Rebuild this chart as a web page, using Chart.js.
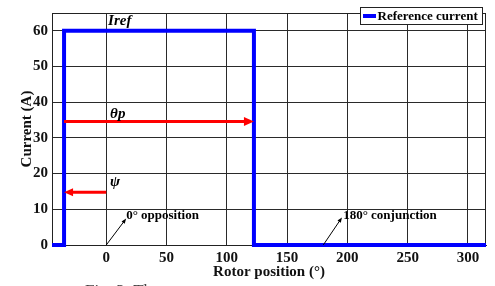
<!DOCTYPE html>
<html>
<head>
<meta charset="utf-8">
<script src="https://cdn.jsdelivr.net/npm/chart.js@4.4.0/dist/chart.umd.min.js"></script>
<style>
html,body{margin:0;padding:0;background:#fff;}
canvas{display:block;}
</style>
</head>
<body>
<canvas id="c" width="495" height="286"></canvas>
<script>
// ---- data ----
const rotorAngle = [-45, -35, -35, 122.5, 122.5, 315];
const refCurrent = [0, 0, 60, 60, 0, 0];
const xTicks = [0, 50, 100, 150, 200, 250, 300];
const yTicks = [0, 10, 20, 30, 40, 50, 60];
const seriesLabel = 'Reference current';
const xTitle = 'Rotor position (°)';
const yTitle = 'Current (A)';
// red dimension arrows: [x from, x to, y]
const thetaArrow = [-35, 122.5, 34.6];
const psiArrow = [0, -35, 14.8];
// black pointer arrows: [x0, y0, x1, y1]
const oppositionArrow = [0, 0, 16.5, 7.4];
const conjunctionArrow = [180, 0, 195.5, 7.7];
// text labels: [text, x, y, style]
const labels = [
  ['Iref', 1.5, 62.7, 'italic bold'],
  ['θp', 3.2, 36.7, 'italic bold'],
  ['ψ', 3.2, 17.6, 'italic bold'],
  ['0° opposition', 16.5, 8.3, 'bold'],
  ['180° conjunction', 196.5, 8.3, 'bold']
];
const caption = 'Fig. 3. The';

const FONT = '"Liberation Serif", "Times New Roman", serif';

function arrowHead(ctx, x1, y1, x2, y2, len, w) {
  const a = Math.atan2(y2 - y1, x2 - x1);
  ctx.beginPath();
  ctx.moveTo(x2, y2);
  ctx.lineTo(x2 - len * Math.cos(a) + w / 2 * Math.sin(a), y2 - len * Math.sin(a) - w / 2 * Math.cos(a));
  ctx.lineTo(x2 - len * Math.cos(a) - w / 2 * Math.sin(a), y2 - len * Math.sin(a) + w / 2 * Math.cos(a));
  ctx.closePath();
  ctx.fill();
}
function arrow(ctx, x1, y1, x2, y2, color, lw, len, w) {
  const a = Math.atan2(y2 - y1, x2 - x1);
  ctx.save();
  ctx.strokeStyle = color; ctx.fillStyle = color; ctx.lineWidth = lw;
  ctx.beginPath();
  ctx.moveTo(x1, y1);
  ctx.lineTo(x2 - (len - 1) * Math.cos(a), y2 - (len - 1) * Math.sin(a));
  ctx.stroke();
  arrowHead(ctx, x1, y1, x2, y2, len, w);
  ctx.restore();
}

const annot = {
  id: 'annot',
  beforeDatasetsDraw(chart) {
    const {ctx, chartArea: ca} = chart;
    ctx.save();
    ctx.strokeStyle = '#222';
    ctx.lineWidth = 1;
    ctx.strokeRect(ca.left + 0.5, ca.top + 0.5, ca.right - ca.left - 1, ca.bottom - ca.top);
    ctx.restore();
  },
  afterDatasetsDraw(chart) {
    const {ctx, scales: {x, y}} = chart;
    const px = v => x.getPixelForValue(v), py = v => y.getPixelForValue(v);
    arrow(ctx, px(thetaArrow[0]), py(thetaArrow[2]), px(thetaArrow[1]), py(thetaArrow[2]), '#ff0000', 3, 10, 9);
    arrow(ctx, px(psiArrow[0]), py(psiArrow[2]), px(psiArrow[1]), py(psiArrow[2]), '#ff0000', 3, 9, 8);
    arrow(ctx, px(oppositionArrow[0]), py(oppositionArrow[1]), px(oppositionArrow[2]), py(oppositionArrow[3]), '#000', 1, 5, 4);
    arrow(ctx, px(conjunctionArrow[0]), py(conjunctionArrow[1]), px(conjunctionArrow[2]), py(conjunctionArrow[3]), '#000', 1, 5, 4);
    ctx.save();
    ctx.fillStyle = '#000';
    ctx.textBaseline = 'middle';
    ctx.textAlign = 'left';
    labels.forEach(([t, lx, ly, st]) => {
      const size = st.indexOf('italic') >= 0 ? 15 : 13;
      ctx.font = st + ' ' + size + 'px ' + FONT;
      ctx.fillText(t, px(lx), py(ly));
    });
    // legend
    const ds = chart.data.datasets[0];
    const bx = 360.5, by = 7.5, bw = 122, bh = 17;
    ctx.fillStyle = '#fff';
    ctx.fillRect(bx, by, bw, bh);
    ctx.strokeStyle = '#222';
    ctx.lineWidth = 1;
    ctx.strokeRect(bx, by, bw, bh);
    ctx.strokeStyle = ds.borderColor;
    ctx.lineWidth = 4;
    ctx.beginPath();
    ctx.moveTo(363, by + bh / 2);
    ctx.lineTo(376, by + bh / 2);
    ctx.stroke();
    ctx.fillStyle = '#000';
    ctx.font = 'bold 13px ' + FONT;
    ctx.fillText(ds.label, 377.5, by + bh / 2 + 0.5);
    // caption (cut off at bottom)
    ctx.fillStyle = '#444';
    ctx.font = '17px ' + FONT;
    ctx.textBaseline = 'top';
    ctx.fillText(caption, 85, 283);
    ctx.restore();
  }
};

new Chart(document.getElementById('c'), {
  type: 'scatter',
  data: {
    datasets: [{
      label: seriesLabel,
      data: rotorAngle.map((a, i) => ({x: a, y: refCurrent[i]})),
      showLine: true,
      borderColor: '#0000ff',
      borderWidth: 4,
      pointRadius: 0,
      fill: false,
      tension: 0,
      clip: 6,
      borderJoinStyle: 'miter'
    }]
  },
  options: {
    responsive: false,
    animation: false,
    devicePixelRatio: 1,
    layout: {padding: {top: 3, right: 9, left: 0, bottom: 0}},
    plugins: {legend: {display: false}, tooltip: {enabled: false}},
    scales: {
      x: {
        type: 'linear', min: -45, max: 315,
        afterBuildTicks: s => { s.ticks = xTicks.map(v => ({value: v})); },
        afterFit: s => { s.height = 41; },
        grid: {color: '#2a2a2a', lineWidth: 1, drawTicks: false},
        border: {display: true, color: '#222'},
        ticks: {padding: 4, color: '#111', font: {family: FONT, size: 15, weight: 'bold'}, maxRotation: 0},
        title: {display: true, text: xTitle, color: '#111', font: {family: FONT, size: 15, weight: 'bold'}, padding: {top: 0, bottom: 5}}
      },
      y: {
        type: 'linear', min: 0, max: 65,
        afterBuildTicks: s => { s.ticks = yTicks.map(v => ({value: v})); },
        afterFit: s => { s.width = 52; },
        grid: {color: '#2a2a2a', lineWidth: 1, drawTicks: false},
        border: {display: true, color: '#222'},
        ticks: {padding: 4, color: '#111', font: {family: FONT, size: 15, weight: 'bold'}},
        title: {display: true, text: yTitle, color: '#111', font: {family: FONT, size: 15, weight: 'bold'}, padding: {top: 18, bottom: 0}}
      }
    }
  },
  plugins: [annot]
});
</script>
</body>
</html>
